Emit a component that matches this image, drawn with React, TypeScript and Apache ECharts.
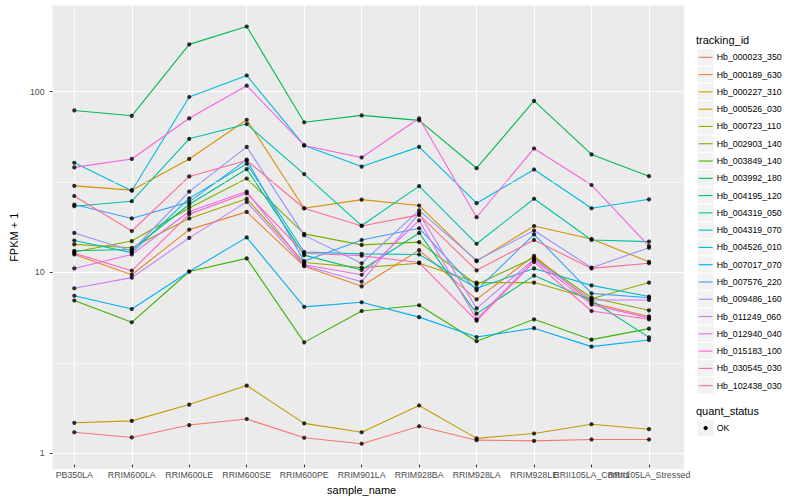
import React, { useEffect, useRef } from "react";
import * as echarts from "echarts";

const categories = [
  "PB350LA", "RRIM600LA", "RRIM600LE", "RRIM600SE", "RRIM600PE", "RRIM901LA",
  "RRIM928BA", "RRIM928LA", "RRIM928LE", "RRII105LA_Control", "RRII105LA_Stressed",
];

const trackingIds = [
  "Hb_000023_350", "Hb_000189_630", "Hb_000227_310", "Hb_000526_030", "Hb_000723_110",
  "Hb_002903_140", "Hb_003849_140", "Hb_003992_180", "Hb_004195_120", "Hb_004319_050",
  "Hb_004319_070", "Hb_004526_010", "Hb_007017_070", "Hb_007576_220", "Hb_009486_160",
  "Hb_011249_060", "Hb_012940_040", "Hb_015183_100", "Hb_030545_030", "Hb_102438_030",
];

const palette = [
  "#F8766D", "#EA8331", "#D89000", "#C09B00", "#A3A500", "#7CAE00", "#39B600",
  "#00BB4E", "#00BF7D", "#00C1A3", "#00BFC4", "#00BAE0", "#00B0F6", "#35A2FF",
  "#9590FF", "#C77CFF", "#E76BF3", "#FA62DB", "#FF62BC", "#FF6C91",
];

// FPKM + 1 values, one array per tracking_id, in category order
const hb000023_350 = [1.24, 1.16, 1.36, 1.47, 1.155, 1.07, 1.34, 1.12, 1.11, 1.13, 1.13];
const hb000189_630 = [12.2, 9.4, 16.8, 21.1, 10.5, 8.1, 12.9, 6.85, 12.0, 6.55, 5.5];
const hb000227_310 = [29.5, 27.9, 41.7, 69, 22.1, 24.7, 22.9, 11.2, 17.6, 14.9, 11.1];
const hb000526_030 = [1.4, 1.435, 1.77, 2.26, 1.39, 1.24, 1.75, 1.146, 1.22, 1.375, 1.29];
const hb000723_110 = [13.9, 13.3, 19.4, 25.0, 11.0, 10.3, 10.9, 8.5, 8.5, 6.9, 8.5];
const hb002903_140 = [12.6, 14.5, 22.2, 32.4, 15.9, 13.8, 14.3, 8.3, 11.7, 7.0, 5.95];
const hb003849_140 = [6.75, 5.1, 9.8, 11.6, 3.94, 5.9, 6.35, 4.0, 5.3, 4.08, 4.7];
const hb003992_180 = [77.8, 72.6, 182, 229, 66.8, 73, 68.5, 37, 88, 44.2, 33.4];
const hb004195_120 = [12.8, 13.0, 23.2, 36.6, 12.1, 10.0, 16.1, 5.7, 9.3, 6.75, 4.2];
const hb004319_050 = [22.7, 24.2, 54, 65.3, 34.3, 17.7, 29.4, 14.0, 25, 14.7, 14.4];
const hb004319_070 = [14.6, 12.5, 25.1, 39.2, 12.6, 12.3, 12.2, 7.9, 10.2, 8.2, 7.1];
const hb004526_010 = [39.7, 27.7, 92.5, 122, 49.6, 37.8, 48.7, 23.6, 36.4, 22.1, 24.8];
const hb007017_070 = [7.18, 6.05, 9.8, 15.2, 6.22, 6.6, 5.45, 4.22, 4.73, 3.73, 4.06];
const hb007576_220 = [23.2, 19.4, 24.0, 41.3, 11.2, 14.7, 17.1, 7.7, 15.8, 7.4, 7.0];
const hb009486_160 = [16.1, 12.8, 27.4, 48.7, 15.6, 10.9, 21.5, 11.3, 16.6, 10.3, 13.3];
const hb011249_060 = [7.9, 9.06, 15.1, 24.0, 10.6, 8.6, 20.7, 6.1, 11.5, 6.8, 6.8];
const hb012940_040 = [10.2, 12.2, 21.2, 27.4, 10.7, 9.4, 18.9, 5.3, 11.4, 6.4, 5.4];
const hb015183_100 = [37.4, 41.7, 70.3, 107, 49.6, 42.5, 70.3, 19.7, 47.7, 29.8, 13.6];
const hb030545_030 = [12.4, 9.9, 20.5, 26.8, 12.4, 12.0, 11.0, 5.2, 11.1, 5.9, 5.3];
const hb102438_030 = [25.9, 16.5, 33.3, 40.9, 22.1, 17.6, 20.3, 9.95, 14.7, 10.2, 10.9];

const seriesValues = [
  hb000023_350, hb000189_630, hb000227_310, hb000526_030, hb000723_110,
  hb002903_140, hb003849_140, hb003992_180, hb004195_120, hb004319_050,
  hb004319_070, hb004526_010, hb007017_070, hb007576_220, hb009486_160,
  hb011249_060, hb012940_040, hb015183_100, hb030545_030, hb102438_030,
];

const yTicks = [1, 10, 100];
const yMinorBreaks = [3.1623, 31.623];
const quantStatus = ["OK"];

const FONT = "'Liberation Sans', Arial, Helvetica, sans-serif";

export default function App() {
  const ref = useRef<HTMLDivElement>(null);

  useEffect(() => {
    if (!ref.current) return;
    const chart = echarts.init(ref.current, undefined, { renderer: "svg" });

    const yMin = 0.818;
    const yMax = 300;
    const top = 5.5;
    const height = 463.5;

    const lineSeries = trackingIds.map((name, i) => ({
      name,
      type: "line",
      xAxisIndex: 0,
      yAxisIndex: 0,
      data: seriesValues[i].map((v, j) => [j, v]),
      showSymbol: false,
      symbol: "none",
      lineStyle: { color: palette[i], width: 1.1 },
      itemStyle: { color: palette[i] },
      z: 3,
      silent: true,
    }));

    const pointData: number[][] = [];
    seriesValues.forEach((arr) => arr.forEach((v, j) => pointData.push([j, v])));

    // legend drawn with graphic elements
    const legendEls: any[] = [];
    legendEls.push({
      type: "text", x: 696, y: 39.5,
      style: { text: "tracking_id", fontSize: 11, fontFamily: FONT, fill: "#000", verticalAlign: "middle", textVerticalAlign: "middle", align: "left" },
    });
    const keyTop = 48.7;
    const keySize = 17.28;
    trackingIds.forEach((name, i) => {
      const y0 = keyTop + i * keySize;
      legendEls.push({
        type: "rect", shape: { x: 697, y: y0, width: keySize, height: keySize },
        style: { fill: "#F2F2F2", stroke: "#FFFFFF", lineWidth: 1 },
      });
      legendEls.push({
        type: "line", shape: { x1: 698.7, y1: y0 + keySize / 2, x2: 712.6, y2: y0 + keySize / 2 },
        style: { stroke: palette[i], lineWidth: 1.1 },
      });
      legendEls.push({
        type: "text", x: 716.7, y: y0 + keySize / 2,
        style: { text: name, fontSize: 8.8, fontFamily: FONT, fill: "#000", verticalAlign: "middle", textVerticalAlign: "middle", align: "left" },
      });
    });
    legendEls.push({
      type: "text", x: 696, y: 411,
      style: { text: "quant_status", fontSize: 11, fontFamily: FONT, fill: "#000", verticalAlign: "middle", textVerticalAlign: "middle", align: "left" },
    });
    quantStatus.forEach((q, i) => {
      const y0 = 419.4 + i * keySize;
      legendEls.push({
        type: "rect", shape: { x: 697, y: y0, width: keySize, height: keySize },
        style: { fill: "#F2F2F2", stroke: "#FFFFFF", lineWidth: 1 },
      });
      legendEls.push({
        type: "circle", shape: { cx: 697 + keySize / 2, cy: y0 + keySize / 2, r: 2.1 },
        style: { fill: "#000" },
      });
      legendEls.push({
        type: "text", x: 716.7, y: y0 + keySize / 2,
        style: { text: q, fontSize: 8.8, fontFamily: FONT, fill: "#000", verticalAlign: "middle", textVerticalAlign: "middle", align: "left" },
      });
    });

    chart.setOption({
      animation: false,
      textStyle: { fontFamily: FONT },
      grid: [
        { left: 74.3, top, width: 574.7, height, containLabel: false },
        { left: 40, top, width: 644, height, show: true, backgroundColor: "#EBEBEB", borderWidth: 0, containLabel: false },
      ],
      xAxis: [
        {
          type: "category",
          gridIndex: 0,
          data: categories,
          boundaryGap: false,
          axisLine: { show: false },
          axisTick: { show: true, length: 2.7, lineStyle: { color: "#333333", width: 1 } },
          axisLabel: { interval: 0, color: "#4D4D4D", fontSize: 8.8, margin: 5.5, hideOverlap: false, fontFamily: FONT },
          splitLine: { show: true, lineStyle: { color: "#FFFFFF", width: 1.07 } },
          name: "sample_name",
          nameLocation: "middle",
          nameGap: 14,
          nameTextStyle: { fontSize: 11, color: "#000", fontFamily: FONT },
          z: 1,
        },
        { type: "value", gridIndex: 1, min: 0, max: 1, show: false },
      ],
      yAxis: [
        { type: "log", gridIndex: 0, min: yMin, max: yMax, logBase: 10, show: false },
        {
          type: "log",
          gridIndex: 1,
          min: yMin,
          max: yMax,
          logBase: 10,
          axisLine: { show: false },
          axisTick: { show: true, length: 2.7, lineStyle: { color: "#333333", width: 1 }, customValues: yTicks },
          axisLabel: { color: "#4D4D4D", fontSize: 8.8, margin: 8, fontFamily: FONT, customValues: yTicks },
          splitLine: { show: true, lineStyle: { color: "#FFFFFF", width: 1.07 } },
          name: "FPKM + 1",
          nameLocation: "middle",
          nameGap: 22,
          nameRotate: 90,
          nameTextStyle: { fontSize: 11, color: "#000", fontFamily: FONT },
        },
      ],
      series: [
        {
          type: "line",
          xAxisIndex: 1,
          yAxisIndex: 1,
          data: [[0.5, 1]],
          showSymbol: false,
          symbol: "none",
          lineStyle: { opacity: 0 },
          silent: true,
          z: 1,
          markLine: {
            silent: true,
            symbol: ["none", "none"],
            label: { show: false },
            lineStyle: { color: "#FFFFFF", width: 0.55, type: "solid" },
            data: yMinorBreaks.map((v) => ({ yAxis: v })),
          },
        },
        ...lineSeries,
        {
          name: "OK",
          type: "scatter",
          xAxisIndex: 0,
          yAxisIndex: 0,
          data: pointData,
          symbol: "circle",
          symbolSize: 4.2,
          itemStyle: { color: "#000000" },
          z: 5,
          silent: true,
        },
      ],
      graphic: legendEls,
    });

    return () => chart.dispose();
  }, []);

  return (
    <div
      ref={ref}
      style={{ position: "fixed", left: 0, top: 0, width: "800px", height: "500px", background: "#FFFFFF" }}
    />
  );
}
